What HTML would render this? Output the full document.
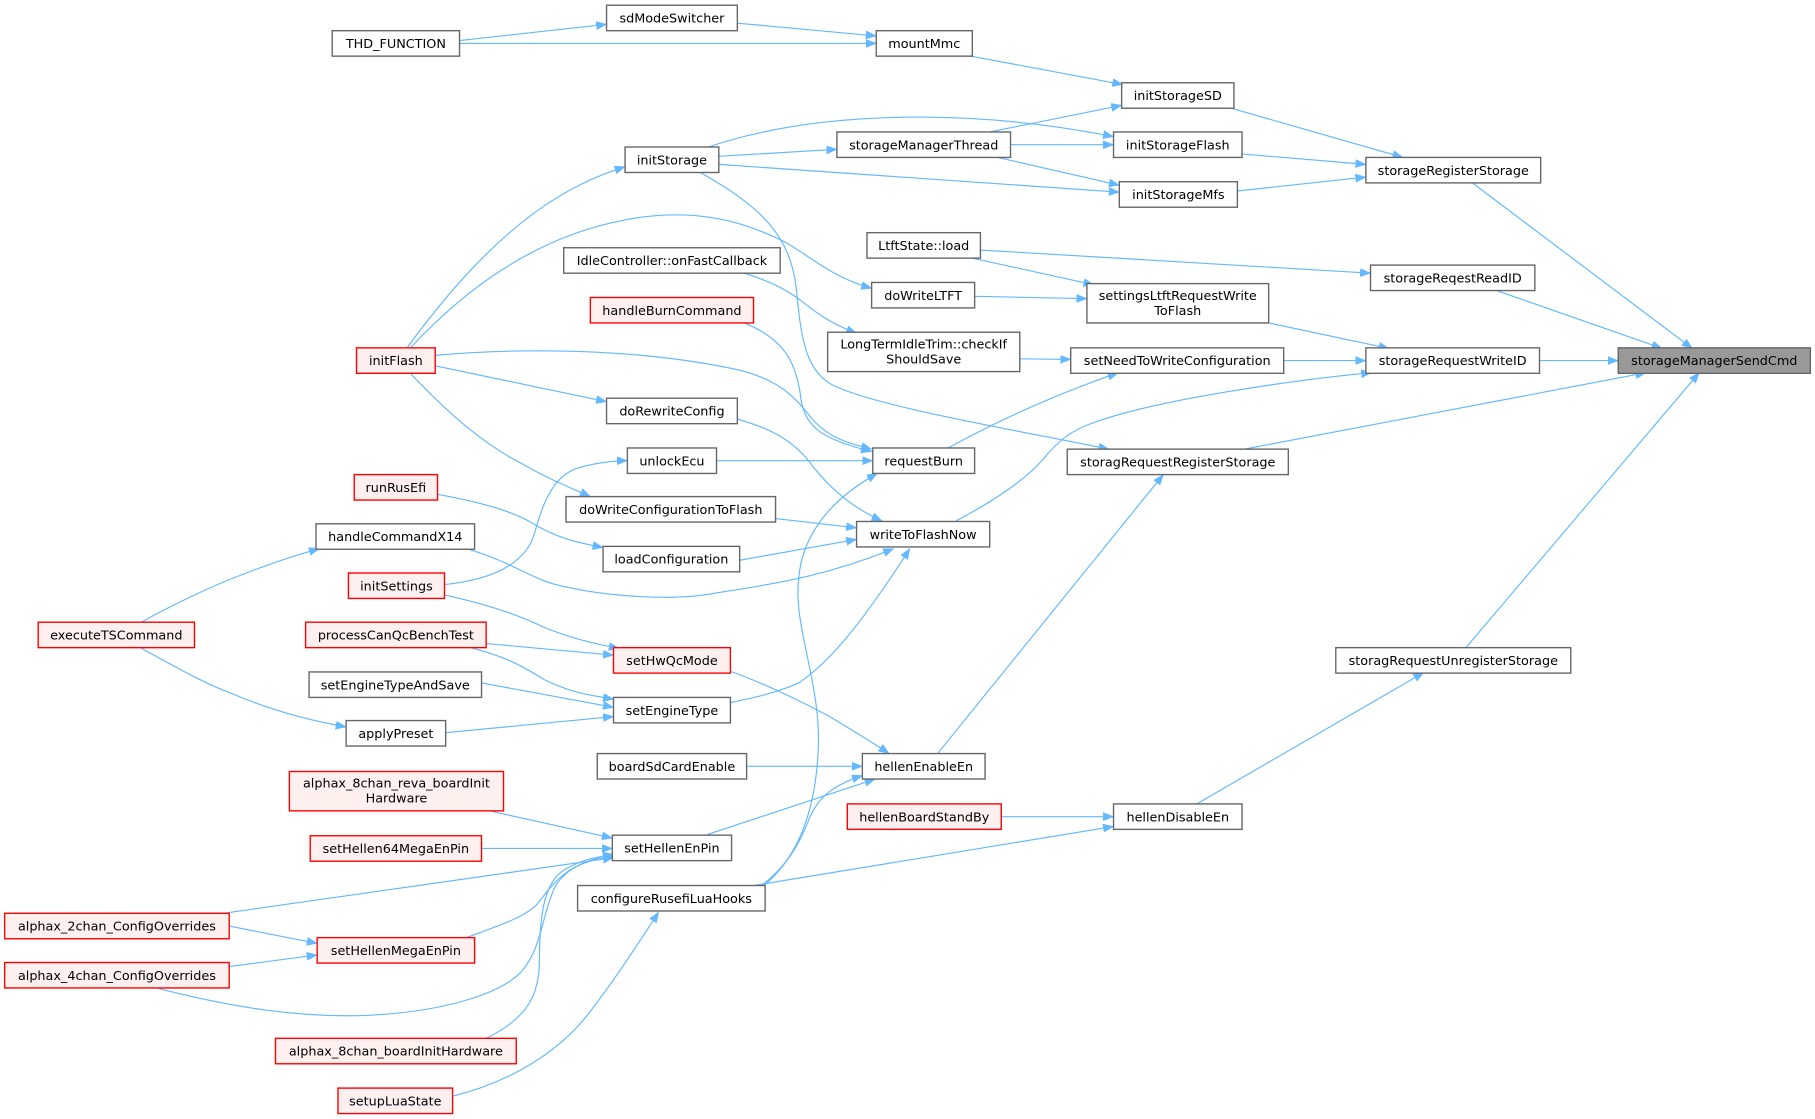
<!DOCTYPE html>
<html>
<head>
<meta charset="utf-8">
<style>
html,body{margin:0;padding:0;background:#fff;overflow:hidden;}
svg{display:block;}
.n rect{fill:#fff;stroke:#666;stroke-width:1.2;}
.r rect{fill:#fff0f0;stroke:#f00;stroke-width:1.2;}
.g rect{fill:#999;stroke:#666;stroke-width:1.2;}
text{font-family:"DejaVu Sans","Liberation Sans",sans-serif;font-size:11.05px;fill:#000;text-anchor:middle;}
.e path{fill:none;stroke:#63b8ff;stroke-width:1;marker-end:url(#a);}
</style>
</head>
<body>
<svg width="1815" height="1119" viewBox="0 0 1568 966.7" xmlns="http://www.w3.org/2000/svg">
<defs>
<marker id="a" markerUnits="userSpaceOnUse" markerWidth="10" markerHeight="8" refX="9" refY="3.5" orient="auto">
<path d="M0,0 L9,3.5 L0,7 z" fill="#63b8ff" stroke="#63b8ff" stroke-width="0.5"/>
</marker>
</defs>
<g class="e">
<path d="M397,35 L524,21"/>
<path d="M397,37.5 L757,37.5"/>
<path d="M637,20 L757,31"/>
<path d="M836,48 L970,73"/>
<path d="M855,114 L969,91"/>
<path d="M612,127 C700,97 830,92 962,118"/>
<path d="M873,125 L962,125"/>
<path d="M862,136 L967,160"/>
<path d="M621,142 L967,166"/>
<path d="M621,135 L723,129"/>
<path d="M1062,93 L1212,136"/>
<path d="M1073,133 L1180,142"/>
<path d="M1069,165 L1180,153"/>
<path d="M1272,158 L1462,301"/>
<path d="M352,300 C385,255 420,215 460,185 C490,163 515,152 540,144"/>
<path d="M355,300 C400,252 460,205 540,190 C600,178 645,192 680,210 C700,222 720,240 753,249"/>
<path d="M847,216 L1184,236"/>
<path d="M840,223 L945,246"/>
<path d="M842,256 L939,258"/>
<path d="M643,236 C665,243 680,250 695,262 C710,274 722,281 740,288"/>
<path d="M881,310 L925,310.5"/>
<path d="M1096,279 L1200,301"/>
<path d="M1109,311.5 L1180,311.5"/>
<path d="M1293,251 L1436,301"/>
<path d="M1330,311.5 L1398,311.5"/>
<path d="M1075,388 L1422,322"/>
<path d="M1266,560 L1468,322"/>
<path d="M605,149 C660,180 683,205 688,250 C692,290 695,320 720,333 C760,352 880,372 958,388"/>
<path d="M643,279 C675,292 688,310 692,345 C696,370 712,380 753,390"/>
<path d="M376,307 C430,302 540,298 640,320 C670,328 685,340 700,360 C715,378 730,382 753,388"/>
<path d="M619,398 L754,398"/>
<path d="M819,387 C850,370 900,345 966,322"/>
<path d="M826,450 C860,432 885,415 900,398 C915,380 925,372 945,365 C1000,345 1120,328 1185,322"/>
<path d="M376,316 L524,347"/>
<path d="M354,322 C390,360 420,385 450,400 C470,412 490,420 510,429"/>
<path d="M637,362 C665,370 685,380 700,400 C715,420 735,438 762,450"/>
<path d="M670,448 L740,456"/>
<path d="M639,484 L740,466"/>
<path d="M378,427 C410,433 440,440 460,452 C480,464 495,468 521,473"/>
<path d="M406,475 C440,485 460,500 480,505 C520,515 580,520 620,512 C680,503 720,495 772,474"/>
<path d="M384,505 C430,500 455,485 462,460 C470,430 480,410 500,404 C515,400 530,398 542,398"/>
<path d="M384,514 C420,522 450,532 470,542 C490,550 510,556 535,560"/>
<path d="M123,537 C150,522 180,508 200,500 C225,490 250,481 276,474"/>
<path d="M122,560 C150,575 175,590 200,599 C230,612 265,622 299,628"/>
<path d="M420,556 L530,566"/>
<path d="M408,560 C440,568 455,578 470,587 C490,597 505,600 530,604"/>
<path d="M416,590 L530,611"/>
<path d="M385,633 L530,619"/>
<path d="M631,607 C655,602 672,598 690,590 C720,570 750,530 786,474"/>
<path d="M631,580 C660,590 690,605 715,618 C735,630 755,642 768,651"/>
<path d="M810,651 L1005,410"/>
<path d="M645,662 L745,662"/>
<path d="M611,721 L756,673"/>
<path d="M658,765 C680,748 690,730 698,710 C705,692 715,680 745,670"/>
<path d="M660,765 C690,740 705,700 707,645 C709,590 685,540 690,500 C693,460 720,430 758,409"/>
<path d="M865,705.5 L962,705.5"/>
<path d="M651,765 L962,714"/>
<path d="M1033,695 L1230,581"/>
<path d="M425,701 L529,724"/>
<path d="M416,733 L529,733"/>
<path d="M193,789 L530,741"/>
<path d="M198,800 L274,815"/>
<path d="M198,835 L274,825"/>
<path d="M137,854 C200,870 260,880 320,877 C380,874 430,860 450,840 C468,820 468,790 480,765 C490,750 505,743 530,740"/>
<path d="M403,810 C430,800 455,792 465,780 C478,763 490,745 530,738"/>
<path d="M420,897 C455,880 466,860 466,830 C466,790 470,760 490,750 C505,742 515,740 530,739"/>
<path d="M391,947 C440,935 480,910 505,880 C525,855 545,825 569,788"/>
</g>

<g class="n"><rect x="287" y="26.5" width="110" height="22"/><text x="342" y="41.5">THD_FUNCTION</text></g>
<g class="n"><rect x="524" y="4.5" width="113" height="22"/><text x="580.5" y="19.5">sdModeSwitcher</text></g>
<g class="n"><rect x="757" y="26.5" width="83" height="22"/><text x="798.5" y="41.5">mountMmc</text></g>
<g class="n"><rect x="969" y="71.5" width="97" height="22"/><text x="1017.5" y="86.5">initStorageSD</text></g>
<g class="n"><rect x="540" y="127" width="81" height="22"/><text x="580.5" y="142">initStorage</text></g>
<g class="n"><rect x="723" y="114" width="150" height="22"/><text x="798" y="129">storageManagerThread</text></g>
<g class="n"><rect x="962" y="114" width="111" height="22"/><text x="1017.5" y="129">initStorageFlash</text></g>
<g class="n"><rect x="967" y="157" width="102" height="22"/><text x="1018" y="172">initStorageMfs</text></g>
<g class="n"><rect x="1180" y="136" width="151" height="22"/><text x="1255.5" y="151">storageRegisterStorage</text></g>
<g class="n"><rect x="749" y="201" width="98" height="22"/><text x="798" y="216">LtftState::load</text></g>
<g class="n"><rect x="487" y="214" width="187" height="22"/><text x="580.5" y="229">IdleController::onFastCallback</text></g>
<g class="n"><rect x="753" y="244" width="89" height="22"/><text x="797.5" y="259">doWriteLTFT</text></g>
<g class="n"><rect x="1184" y="229" width="142" height="22"/><text x="1255" y="244">storageReqestReadID</text></g>
<g class="r"><rect x="510" y="257" width="141" height="22"/><text x="580.5" y="272">handleBurnCommand</text></g>
<g class="n"><rect x="939" y="245" width="157" height="34"/><text x="1017.5" y="259">settingsLtftRequestWrite</text><text x="1017.5" y="272">ToFlash</text></g>
<g class="n"><rect x="715" y="287" width="166" height="34"/><text x="798" y="301">LongTermIdleTrim::checkIf</text><text x="798" y="314">ShouldSave</text></g>
<g class="r"><rect x="308" y="300.5" width="68" height="22"/><text x="342" y="315.5">initFlash</text></g>
<g class="n"><rect x="925" y="300.5" width="184" height="22"/><text x="1017" y="315.5">setNeedToWriteConfiguration</text></g>
<g class="n"><rect x="1180" y="300.5" width="150" height="22"/><text x="1255" y="315.5">storageRequestWriteID</text></g>
<g class="g"><rect x="1398" y="300.5" width="166" height="22"/><text x="1481" y="315.5">storageManagerSendCmd</text></g>
<g class="n"><rect x="524" y="344" width="113" height="22"/><text x="580.5" y="359">doRewriteConfig</text></g>
<g class="n"><rect x="542" y="387" width="77" height="22"/><text x="580.5" y="402">unlockEcu</text></g>
<g class="n"><rect x="754" y="387" width="88" height="22"/><text x="798" y="402">requestBurn</text></g>
<g class="n"><rect x="922" y="388" width="191" height="22"/><text x="1017.5" y="403">storagRequestRegisterStorage</text></g>
<g class="r"><rect x="306" y="410" width="72" height="22"/><text x="342" y="425">runRusEfi</text></g>
<g class="n"><rect x="489" y="429" width="181" height="22"/><text x="579.5" y="444">doWriteConfigurationToFlash</text></g>
<g class="n"><rect x="740" y="450.5" width="115" height="22"/><text x="797.5" y="465.5">writeToFlashNow</text></g>
<g class="n"><rect x="273" y="452.5" width="137" height="22"/><text x="341.5" y="467.5">handleCommandX14</text></g>
<g class="n"><rect x="521" y="472" width="118" height="22"/><text x="580" y="487">loadConfiguration</text></g>
<g class="r"><rect x="301" y="495" width="83" height="22"/><text x="342.5" y="510">initSettings</text></g>
<g class="r"><rect x="33" y="537.5" width="135" height="22"/><text x="100.5" y="552.5">executeTSCommand</text></g>
<g class="r"><rect x="264" y="537.5" width="156" height="22"/><text x="342" y="552.5">processCanQcBenchTest</text></g>
<g class="r"><rect x="530" y="559.5" width="101" height="22"/><text x="580.5" y="574.5">setHwQcMode</text></g>
<g class="n"><rect x="1154" y="559.5" width="203" height="22"/><text x="1255.5" y="574.5">storagRequestUnregisterStorage</text></g>
<g class="n"><rect x="267" y="580.5" width="149" height="22"/><text x="341.5" y="595.5">setEngineTypeAndSave</text></g>
<g class="n"><rect x="530" y="602.5" width="101" height="22"/><text x="580.5" y="617.5">setEngineType</text></g>
<g class="n"><rect x="299" y="622.5" width="86" height="22"/><text x="342" y="637.5">applyPreset</text></g>
<g class="n"><rect x="516" y="651" width="129" height="22"/><text x="580.5" y="666">boardSdCardEnable</text></g>
<g class="n"><rect x="745" y="651" width="106" height="22"/><text x="798" y="666">hellenEnableEn</text></g>
<g class="r"><rect x="250" y="666.5" width="185" height="34"/><text x="342.5" y="680.5">alphax_8chan_reva_boardInit</text><text x="342.5" y="693.5">Hardware</text></g>
<g class="r"><rect x="732" y="694.5" width="133" height="22"/><text x="798.5" y="709.5">hellenBoardStandBy</text></g>
<g class="n"><rect x="962" y="694.5" width="111" height="22"/><text x="1017.5" y="709.5">hellenDisableEn</text></g>
<g class="r"><rect x="268" y="722" width="148" height="22"/><text x="342" y="737">setHellen64MegaEnPin</text></g>
<g class="n"><rect x="529" y="721.5" width="103" height="22"/><text x="580.5" y="736.5">setHellenEnPin</text></g>
<g class="n"><rect x="499" y="765" width="162" height="22"/><text x="580" y="780">configureRusefiLuaHooks</text></g>
<g class="r"><rect x="4" y="789" width="194" height="22"/><text x="101" y="804">alphax_2chan_ConfigOverrides</text></g>
<g class="r"><rect x="274" y="810" width="136" height="22"/><text x="342" y="825">setHellenMegaEnPin</text></g>
<g class="r"><rect x="4" y="831.5" width="194" height="22"/><text x="101" y="846.5">alphax_4chan_ConfigOverrides</text></g>
<g class="r"><rect x="238" y="897" width="208" height="22"/><text x="342" y="912">alphax_8chan_boardInitHardware</text></g>
<g class="r"><rect x="292" y="940" width="99" height="22"/><text x="341.5" y="955">setupLuaState</text></g>
</svg>
</body>
</html>
